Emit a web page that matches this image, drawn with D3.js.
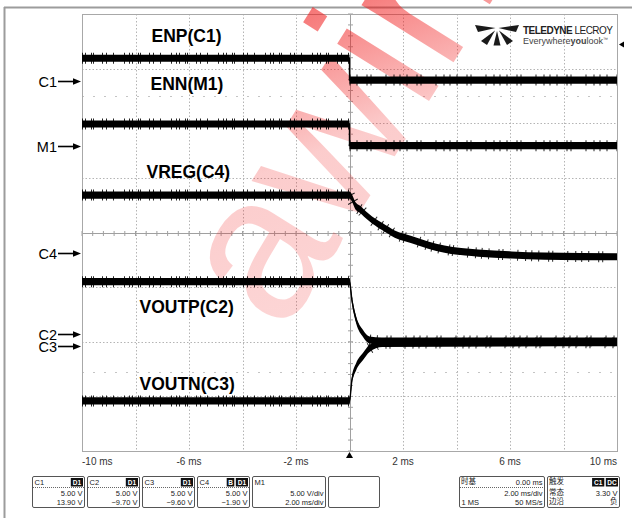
<!DOCTYPE html>
<html><head><meta charset="utf-8">
<script src="https://cdn.jsdelivr.net/npm/d3@7"></script>
<style>
body{margin:0;background:#fff;}
svg{display:block;font-family:"Liberation Sans",Arial,sans-serif;}
</style></head><body>
<svg id="scope" width="632" height="518"></svg>
<script>
// Horizontal axis: time in ms, 2 ms/div
const xTicks = [-10, -6, -2, 2, 6, 10];
const xTickLabels = ["-10 ms", "-6 ms", "-2 ms", "2 ms", "6 ms", "10 ms"];

// Channel settings (volts/div and offset in volts)
const channels = ["C1", "C2", "C3", "C4", "M1"];
const voltsPerDiv = [5, 5, 5, 5, 5];
const offsets = [13.90, -9.70, -9.60, -1.90, 7.95];
const markerNudge = [0, -4, 9, 0, 0];

// Waveforms: time (ms) and volts
const enpTime = [-10, 0, 0, 10];
const enpVolts = [2.05, 2.05, 0.05, 0.05];
const ennTime = [-10, 0, 0, 10];
const ennVolts = [1.98, 1.98, 0, 0];
const vregTime = [-10, 0, 0.25, 0.45, 0.62, 1.07, 1.23, 1.69, 2.32, 2.94, 3.55, 4.81, 6.06, 7.29, 10];
const vregVolts = [5.33, 5.33, 4.26, 3.91, 3.50, 2.67, 2.43, 1.76, 1.25, 0.75, 0.38, 0.02, -0.16, -0.26, -0.32];
const voutpTime = [-10, 0, 0.09, 0.25, 0.5, 0.75, 1.2, 10];
const voutpVolts = [5.20, 5.20, 3.52, 1.69, 0.48, -0.14, -0.23, -0.23];
const voutnTime = [-10, 0, 0.09, 0.25, 0.5, 0.75, 1.23, 10];
const voutnVolts = [-5.82, -5.82, -3.90, -2.68, -1.77, -1.00, -0.54, -0.48];

// Trace names, channels, label anchor (ms, div)
const traceNames = ["ENP(C1)", "ENN(M1)", "VREG(C4)", "VOUTP(C2)", "VOUTN(C3)"];
const traceChannels = ["C1", "M1", "C4", "C2", "C3"];
const labelTime = [-7.40, -7.44, -7.59, -7.85, -7.85];
const labelDiv = [3.60, 2.72, 1.11, -1.36, -2.76];

// Trigger
const triggerTime = 0;
const triggerLevel = 3.30;

const svg = d3.select("#scope");
const plot = {left: 82, right: 617, top: 14, bottom: 451};
const x = d3.scaleLinear().domain([-10, 10]).range([plot.left, plot.right]);
const yDiv = d3.scaleLinear().domain([-4, 4]).range([plot.bottom, plot.top]);
const chY = ch => {
  const i = channels.indexOf(ch);
  return v => yDiv((v + offsets[i]) / voltsPerDiv[i]);
};

// outer frame
svg.append("line").attr("x1", 4).attr("x2", 632).attr("y1", 7.5).attr("y2", 7.5)
  .attr("stroke", "#9c9c9c").attr("stroke-width", 2);
svg.append("line").attr("x1", 4.5).attr("x2", 4.5).attr("y1", 7).attr("y2", 518)
  .attr("stroke", "#9c9c9c").attr("stroke-width", 2);

// grid
const grid = svg.append("g");
d3.range(-3, 4).filter(d => d !== 0).forEach(d => {
  grid.append("line").attr("x1", plot.left).attr("x2", plot.right)
    .attr("y1", Math.round(yDiv(d)) + 0.5).attr("y2", Math.round(yDiv(d)) + 0.5)
    .attr("stroke", "#b4b4b4").attr("stroke-dasharray", "1.5 2");
});
d3.range(-8, 10, 2).filter(t => t !== 0).forEach(t => {
  grid.append("line").attr("y1", plot.top).attr("y2", plot.bottom)
    .attr("x1", Math.round(x(t)) + 0.5).attr("x2", Math.round(x(t)) + 0.5)
    .attr("stroke", "#b4b4b4").attr("stroke-dasharray", "1.5 2");
});
[2.5, -2.55].forEach(d => {
  grid.append("line").attr("x1", plot.left).attr("x2", plot.right)
    .attr("y1", Math.round(yDiv(d)) + 0.5).attr("y2", Math.round(yDiv(d)) + 0.5)
    .attr("stroke", "#c4c4c4").attr("stroke-dasharray", "2 9");
});
const cx = Math.round(x(0)) + 0.5, cy = Math.round(yDiv(0)) + 0.5;
grid.append("line").attr("x1", plot.left).attr("x2", plot.right).attr("y1", cy).attr("y2", cy)
  .attr("stroke", "#a0a0a0");
grid.append("line").attr("y1", plot.top).attr("y2", plot.bottom).attr("x1", cx).attr("x2", cx)
  .attr("stroke", "#a0a0a0");
d3.range(-10, 10.01, 0.4).forEach(t => {
  grid.append("line").attr("x1", x(t)).attr("x2", x(t)).attr("y1", cy - 2.5).attr("y2", cy + 2.5)
    .attr("stroke", "#a0a0a0");
});
d3.range(-4, 4.01, 0.2).forEach(d => {
  grid.append("line").attr("y1", yDiv(d)).attr("y2", yDiv(d)).attr("x1", cx - 2.5).attr("x2", cx + 2.5)
    .attr("stroke", "#a0a0a0");
});
grid.append("rect").attr("x", plot.left + 0.5).attr("y", plot.top + 0.5)
  .attr("width", plot.right - plot.left).attr("height", plot.bottom - plot.top)
  .attr("fill", "none").attr("stroke", "#a8a8a8");

// watermark, fading from pale pink to red along its length
const defs = svg.append("defs");
const wg = defs.append("linearGradient").attr("id", "wm").attr("gradientUnits", "userSpaceOnUse")
  .attr("x1", 230).attr("y1", 300).attr("x2", 470).attr("y2", -20);
wg.append("stop").attr("offset", 0).attr("stop-color", "#f01818").attr("stop-opacity", 0.15);
wg.append("stop").attr("offset", 0.65).attr("stop-color", "#f01818").attr("stop-opacity", 0.22);
wg.append("stop").attr("offset", 1).attr("stop-color", "#f01818").attr("stop-opacity", 0.6);
svg.append("text").text("awinic")
  .attr("transform", "translate(283,335) rotate(-58)")
  .attr("font-size", 205).attr("fill", "url(#wm)");

// logo
const logo = svg.append("g").attr("transform", "translate(497,28)").attr("fill", "#1a1a1a");
logo.append("path").attr("d", "M-1.5,0 L-22,-3 L-19,4 Z");
logo.append("path").attr("d", "M1.5,0 L22,-3 L19,4 Z");
logo.append("path").attr("d", "M-2,2.5 L-16,13 L-10,17 Z");
logo.append("path").attr("d", "M2,2.5 L16,13 L10,17 Z");
logo.append("path").attr("d", "M0,3 L-3.5,17.5 L3.5,17.5 Z");
const logoText = svg.append("text").attr("x", 523).attr("y", 34).attr("font-size", 10)
  .attr("fill", "#222").attr("textLength", 90);
logoText.append("tspan").attr("font-weight", "bold").text("TELEDYNE");
logoText.append("tspan").text(" LECROY");
const tag = svg.append("text").attr("x", 523).attr("y", 44).attr("font-size", 9).attr("fill", "#444");
tag.append("tspan").text("Everywhere");
tag.append("tspan").attr("font-weight", "bold").text("you");
tag.append("tspan").text("look");
tag.append("tspan").attr("font-size", 5).attr("dy", -3).text("™");

// waveforms
const traces = [
  {ch: "C1", t: enpTime, v: enpVolts, tail: 2, curve: d3.curveLinear},
  {ch: "M1", t: ennTime, v: ennVolts, tail: 2, curve: d3.curveLinear},
  {ch: "C4", t: vregTime, v: vregVolts, tail: 1, curve: d3.curveMonotoneX},
  {ch: "C2", t: voutpTime, v: voutpVolts, tail: 5, curve: d3.curveMonotoneX},
  {ch: "C3", t: voutnTime, v: voutnVolts, tail: 5, curve: d3.curveMonotoneX}
];
const half = 3.6;
const traceG = svg.append("g");
traces.forEach(tr => {
  const y = chY(tr.ch);
  const pts = tr.t.map((t, i) => ({t, v: tr.v[i]}));
  const area = d3.area().curve(tr.curve).x(d => x(d.t))
    .y0(d => y(d.v) + half).y1(d => y(d.v) - half);
  const line = d3.line().curve(tr.curve).x(d => x(d.t)).y(d => y(d.v));
  traceG.append("path").attr("d", area(pts)).attr("fill", "#000");
  traceG.append("path").attr("d", line(pts)).attr("fill", "none")
    .attr("stroke", "#000").attr("stroke-width", 1.4);
  [pts.slice(0, 2), pts.slice(tr.tail)].forEach((seg, k) => {
    traceG.append("path").attr("d", line(seg)).attr("fill", "none")
      .attr("stroke", "#000").attr("stroke-width", 11)
      .attr("stroke-dasharray", k === 0 ? "1 2 1 5 1 1 1 8 1 3 1 6 1 10 1 4" : "1 6 1 9 1 3 1 14 1 7 1 5")
      .attr("opacity", 0.85);
  });
});

// trace names
traceNames.forEach((n, i) => {
  svg.append("text").text(n).attr("x", x(labelTime[i])).attr("y", yDiv(labelDiv[i]))
    .attr("dy", "0.36em").attr("font-size", 17.5).attr("font-weight", "bold").attr("fill", "#000");
});

// channel ground markers
channels.forEach((ch, i) => {
  const yy = Math.round(yDiv(offsets[i] / voltsPerDiv[i]) + markerNudge[i]) + 0.5;
  svg.append("text").text(ch).attr("x", 57).attr("y", yy).attr("dy", "0.35em")
    .attr("text-anchor", "end").attr("font-size", 14.5).attr("fill", "#000");
  svg.append("line").attr("x1", 58).attr("x2", 74).attr("y1", yy).attr("y2", yy)
    .attr("stroke", "#000").attr("stroke-width", 1.6);
  svg.append("path").attr("d", `M73,${yy - 3.2} L81,${yy} L73,${yy + 3.2} Z`).attr("fill", "#000");
});

// trigger markers
const ty = chY("C1")(triggerLevel);
svg.append("path").attr("d", `M619,${ty} L624,${ty - 3} L624,${ty + 3} Z`).attr("fill", "#000");
const tx = x(triggerTime);
svg.append("path").attr("d", `M${tx},${452} L${tx - 3.5},${458} L${tx + 3.5},${458} Z`).attr("fill", "#000");

// time axis labels
xTicks.forEach((t, i) => {
  const anchor = i === 0 ? "start" : (i === xTicks.length - 1 ? "end" : "middle");
  svg.append("text").text(xTickLabels[i]).attr("x", x(t)).attr("y", 465)
    .attr("text-anchor", anchor).attr("font-size", 10).attr("fill", "#333");
});

// info boxes
const fmt = d3.format(".2f");
const boxY = 476, boxH = 31;
const boxes = svg.append("g").attr("font-size", 7.5).attr("fill", "#222");
function box(x0, w) {
  boxes.append("rect").attr("x", x0 + 0.5).attr("y", boxY + 0.5).attr("width", w).attr("height", boxH)
    .attr("rx", 1.5).attr("fill", "#fff").attr("stroke", "#555");
}
function badge(xr, label) {
  const w = label.length * 4.6 + 3;
  boxes.append("rect").attr("x", xr - w).attr("y", boxY + 2).attr("width", w).attr("height", 8.5)
    .attr("fill", "#111");
  boxes.append("text").text(label).attr("x", xr - w / 2).attr("y", boxY + 9)
    .attr("text-anchor", "middle").attr("font-size", 6.5).attr("font-weight", "bold").attr("fill", "#fff");
  return xr - w - 1.5;
}
function sep(x0, w) {
  boxes.append("line").attr("x1", x0 + 1).attr("x2", x0 + w).attr("y1", boxY + 11.5).attr("y2", boxY + 11.5)
    .attr("stroke", "#666").attr("stroke-dasharray", "1 1");
}
const rowY = [8.5, 19.5, 28.5];
function txt(s, xx, row, anchor) {
  boxes.append("text").text(s).attr("x", xx).attr("y", boxY + rowY[row])
    .attr("text-anchor", anchor);
}
function cjk(s, xx, row, anchor) {
  boxes.append("text").text(s).attr("x", xx).attr("y", boxY + rowY[row] - 0.3)
    .attr("text-anchor", anchor).attr("font-family", "Noto Sans CJK SC").attr("font-size", 7.5);
}
const boxLeft = [32, 87, 142, 197];
const badges = [["D1"], ["D1"], ["D1"], ["B", "D1"]];
[0, 1, 2, 3].forEach(i => {
  const x0 = boxLeft[i], w = 52;
  box(x0, w);
  sep(x0, w);
  txt(channels[i], x0 + 2.5, 0, "start");
  let xr = x0 + w - 1;
  badges[i].slice().reverse().forEach(b => { xr = badge(xr, b); });
  txt(fmt(voltsPerDiv[i]) + " V", x0 + w - 1.5, 1, "end");
  txt(fmt(offsets[i]) + " V", x0 + w - 1.5, 2, "end");
});
box(252, 73);
txt("M1", 254.5, 0, "start");
txt(fmt(voltsPerDiv[4]) + " V/div", 323.5, 1, "end");
txt("2.00 ms/div", 323.5, 2, "end");
box(328, 51);
// timebase
box(459, 85);
sep(459, 85);
cjk("时基", 461, 0, "start");
txt("0.00 ms", 542.5, 0, "end");
txt("2.00 ms/div", 542.5, 1, "end");
txt("1 MS", 461.5, 2, "start");
txt("50 MS/s", 542.5, 2, "end");
// trigger
box(547, 72);
cjk("触发", 549, 0, "start");
cjk("常态", 549, 1, "start");
cjk("边沿", 549, 2, "start");
let xr2 = 618;
["C1", "DC"].reverse().forEach(b => { xr2 = badge(xr2, b); });
txt("3.30 V", 617.5, 1, "end");
cjk("负", 617.5, 2, "end");
</script>
</body></html>
